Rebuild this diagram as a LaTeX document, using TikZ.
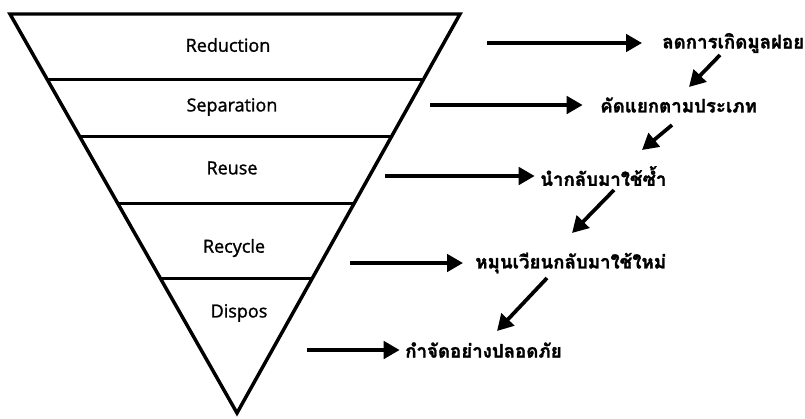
\documentclass[tikz,border=0pt]{standalone}
\usepackage{fontspec}
\setmainfont{Open Sans}
\newfontfamily\levelfont{Open Sans}[FakeBold=1.3]
\newfontfamily\thaifont[Script=Thai,FakeBold=1.6]{Loma}
\usetikzlibrary{arrows.meta,calc}

\tikzset{
  funnel/.style={line width=2.6pt,line join=miter},
  band/.style={line width=2.2pt},
  level/.style={inner sep=0pt,font=\levelfont\fontsize{13.5}{15}\selectfont},
  result/.style={anchor=west,inner sep=0pt,font=\thaifont\bfseries\fontsize{14}{16}\selectfont},
  arr/.style={line width=2.8pt,-{Triangle[length=12pt,width=13pt]}}
}

\begin{document}
\begin{tikzpicture}[x=0.75pt,y=-0.75pt]
\path[use as bounding box] (0,0) rectangle (805,418);
% funnel
\coordinate (tl) at (10,14);
\coordinate (tr) at (460,14);
\coordinate (apex) at (237,413);
\draw[funnel] (tl) -- (tr) -- (apex) -- cycle;
\foreach \f in {0.163,0.306,0.474,0.664}
  \draw[band] ($(tl)!\f!(apex)$) -- ($(tr)!\f!(apex)$);
% levels
\node[level] (reduction) at (228,45) {Reduction};
\node[level] (separation) at (232,107) {Separation};
\node[level] (reuse) at (232,168) {Reuse};
\node[level] (recycle) at (234,248) {Recycle};
\node[level] (dispos) at (239,313) {Dispos};
% results
\node[result] (t1) at (662,43) {ลดการเกิดมูลฝอย};
\node[result] (t2) at (600,105) {คัดแยกตามประเภท};
\node[result] (t3) at (540,176) {นำกลับมาใช้ซ้ำ};
\node[result] (t4) at (475,263) {หมุนเวียนกลับมาใช้ใหม่};
\node[result] (t5) at (405,350) {กำจัดอย่างปลอดภัย};
% horizontal arrows
\coordinate (s1) at (487,43);
\coordinate (s2) at (430,105);
\coordinate (s3) at (385,176);
\coordinate (s4) at (350,263);
\coordinate (s5) at (307,350);
\draw[arr,shorten >=15pt] (s1) -- (t1.west);
\draw[arr,shorten >=13pt] (s2) -- (t2.west);
\draw[arr,shorten >=4pt] (s3) -- (t3.west);
\draw[arr,shorten >=9pt] (s4) -- (t4.west);
\draw[arr,shorten >=4pt] (s5) -- (t5.west);
% diagonal arrows
\coordinate (d1a) at (720,55);
\coordinate (d1b) at (689,87);
\coordinate (d2a) at (672,125);
\coordinate (d2b) at (642,150);
\coordinate (d3a) at (614,190);
\coordinate (d3b) at (572,233);
\coordinate (d4a) at (547,278);
\coordinate (d4b) at (497,331);
\draw[arr] (d1a) -- (d1b);
\draw[arr] (d2a) -- (d2b);
\draw[arr] (d3a) -- (d3b);
\draw[arr] (d4a) -- (d4b);
\end{tikzpicture}
\end{document}
